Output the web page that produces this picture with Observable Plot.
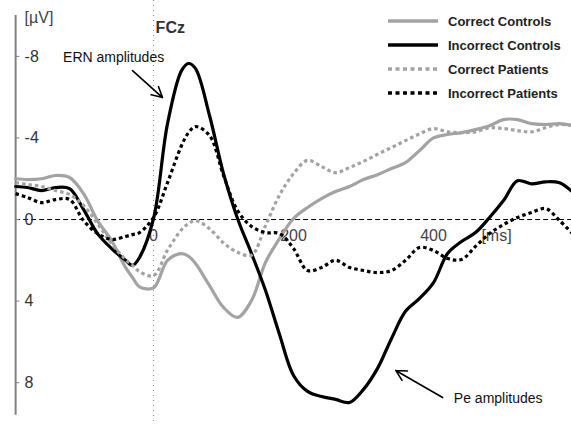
<!DOCTYPE html>
<html>
<head>
<meta charset="utf-8">
<script src="https://cdn.jsdelivr.net/npm/d3@7"></script>
<script src="https://cdn.jsdelivr.net/npm/@observablehq/plot@0.6"></script>
<style>
  html, body { margin: 0; padding: 0; background: #fff; }
  #wrap { position: relative; width: 571px; height: 425px; font-family: "Liberation Sans", Arial, sans-serif; }
  #legend { position: absolute; left: 388px; top: 9px; }
  .row { display: flex; align-items: center; height: 24px; }
  .row svg { width: 50px; height: 8px; margin-right: 10px; }
  .row span { font-weight: bold; font-size: 13px; color: #222; }
</style>
</head>
<body>
<div id="wrap"><div id="legend"></div></div>
<script>
// time in ms
const times = [-197,-180,-160,-140,-120,-100,-80,-60,-40,-30,-20,0,20,40,50,60,80,100,120,140,160,180,200,220,240,260,280,300,320,340,360,380,400,420,440,460,480,500,520,540,560,580,600];
// amplitudes in µV
const correctControls = [-2.0,-1.96,-2.0,-2.16,-2.06,-1.27,0.05,1.03,2.35,2.84,3.3,3.35,2.0,1.67,1.8,2.16,3.24,4.31,4.8,3.97,2.1,0.93,-0.05,-0.59,-1.03,-1.37,-1.62,-1.96,-2.2,-2.5,-2.79,-3.38,-4.0,-4.17,-4.26,-4.41,-4.6,-4.9,-4.9,-4.7,-4.66,-4.7,-4.6];
const incorrectControls = [-1.62,-1.57,-1.42,-1.57,-1.52,-0.5,0.69,1.42,2.0,2.25,1.86,-0.05,-4.7,-7.3,-7.65,-7.4,-5.1,-2.25,-0.05,1.67,3.48,5.64,7.65,8.43,8.68,8.82,8.97,8.33,7.3,5.83,4.5,3.87,3.09,1.67,1.08,0.64,-0.1,-0.93,-1.9,-1.75,-1.85,-1.8,-1.3];
const correctPatients = [-1.81,-1.72,-1.62,-1.42,-1.23,-0.69,0.2,1.18,1.96,2.25,2.55,2.75,1.5,0.5,0.2,0.05,0.45,1.15,1.6,1.75,0.3,-1.2,-2.25,-2.9,-2.6,-2.3,-2.55,-2.85,-3.2,-3.53,-3.87,-4.2,-4.46,-4.3,-4.26,-4.3,-4.5,-4.46,-4.36,-4.3,-4.5,-4.66,-4.6];
const incorrectPatients = [-1.27,-1.08,-0.83,-0.98,-0.98,0.05,0.69,0.98,0.83,0.74,0.64,-0.1,-1.81,-3.63,-4.26,-4.56,-4.12,-2.16,-0.44,0.34,0.64,0.69,1.42,2.5,2.35,2.0,2.35,2.5,2.6,2.5,2.0,1.37,1.52,1.91,1.96,1.32,0.69,0.25,-0.1,-0.34,-0.54,0.05,0.74];

const seriesNames = ["Correct Controls", "Incorrect Controls", "Correct Patients", "Incorrect Patients"];
const seriesValues = [correctControls, incorrectControls, correctPatients, incorrectPatients];
const seriesColors = ["#a3a3a3", "#000000", "#a3a3a3", "#000000"];
const seriesDash = [null, null, "3.5,3", "3.5,3"];

const yTicks = [-8, -4, 0, 4, 8];
const xTicks = [0, 200, 400];
const xUnit = "[ms]";
const yUnit = "[µV]";
const title = "FCz";

const ernNote = {text: "ERN amplitudes", x: -57, y: -7.95, ax1: -30, ay1: -7.3, ax2: 12.9, ay2: -5.98};
const peNote = {text: "Pe amplitudes", x: 429, y: 8.77, ax1: 413, ay1: 8.73, ax2: 346, ay2: 7.4};
const annotations = [ernNote, peNote];

const rows = [];
seriesNames.forEach((name, i) => {
  times.forEach((t, j) => rows.push({series: name, t, v: seriesValues[i][j]}));
});

const xMin = -197, xMax = 597;
const yTop = -10, yBottom = 9.6;

const lineMarks = seriesNames.map((name, i) =>
  Plot.line(rows.filter(d => d.series === name), {
    x: "t", y: "v", stroke: seriesColors[i], strokeWidth: 3.2,
    strokeDasharray: seriesDash[i], curve: "catmull-rom", strokeLinecap: seriesDash[i] ? "butt" : "round"
  })
);

const chart = Plot.plot({
  width: 571, height: 425,
  marginLeft: 0, marginRight: 0, marginTop: 0, marginBottom: 0,
  x: {domain: [-218.6, 597.1], axis: null},
  y: {domain: [10.1, -10.74], axis: null},
  style: {fontFamily: "'Liberation Sans', Arial, sans-serif", background: "transparent"},
  marks: [
    Plot.ruleX([0], {stroke: "#888", strokeWidth: 1, strokeDasharray: "1,4"}),
    Plot.ruleY([0], {x1: xMin, x2: xMax, stroke: "#000", strokeWidth: 1, strokeDasharray: "5,3"}),
    Plot.ruleX([xMin], {y1: yTop, y2: yBottom, stroke: "#808080", strokeWidth: 2}),
    Plot.ruleY(yTicks, {x1: xMin, x2: xMin + 6, stroke: "#808080", strokeWidth: 1}),
    Plot.text(yTicks, {x: xMin, y: d => d, text: d => String(d), dx: 9, textAnchor: "start", fontSize: 16, fill: "#333"}),
    Plot.text([yUnit], {x: xMin, y: yTop, text: d => d, dx: 9, dy: 2, textAnchor: "start", fontSize: 16, fill: "#444"}),
    Plot.text(xTicks, {x: d => d, y: 0, text: d => String(d), dy: 16, fontSize: 16, fill: "#444"}),
    Plot.text([xUnit], {x: 490, y: 0, text: d => d, dy: 16, fontSize: 16, fill: "#444"}),
    Plot.text([title], {x: 3, y: -9.4, text: d => d, textAnchor: "start", fontSize: 16, fontWeight: "bold", fill: "#333"}),
    ...lineMarks,
    Plot.text([ernNote], {x: "x", y: "y", text: "text", textAnchor: "middle", fontSize: 14, fill: "#111"}),
    Plot.text([peNote], {x: "x", y: "y", text: "text", textAnchor: "start", fontSize: 14, fill: "#111"}),
    Plot.arrow(annotations, {x1: "ax1", y1: "ay1", x2: "ax2", y2: "ay2", stroke: "#000", strokeWidth: 1.6, headLength: 11, headAngle: 55})
  ]
});

const wrap = document.getElementById("wrap");
wrap.insertBefore(chart, wrap.firstChild);

const legend = document.getElementById("legend");
seriesNames.forEach((name, i) => {
  const row = document.createElement("div");
  row.className = "row";
  const dash = seriesDash[i] ? `stroke-dasharray="4,3.5"` : "";
  row.innerHTML = `<svg viewBox="0 0 50 8"><line x1="0" y1="4" x2="50" y2="4" stroke="${seriesColors[i]}" stroke-width="3.5" ${dash}/></svg><span>${name}</span>`;
  legend.appendChild(row);
});
</script>
</body>
</html>
